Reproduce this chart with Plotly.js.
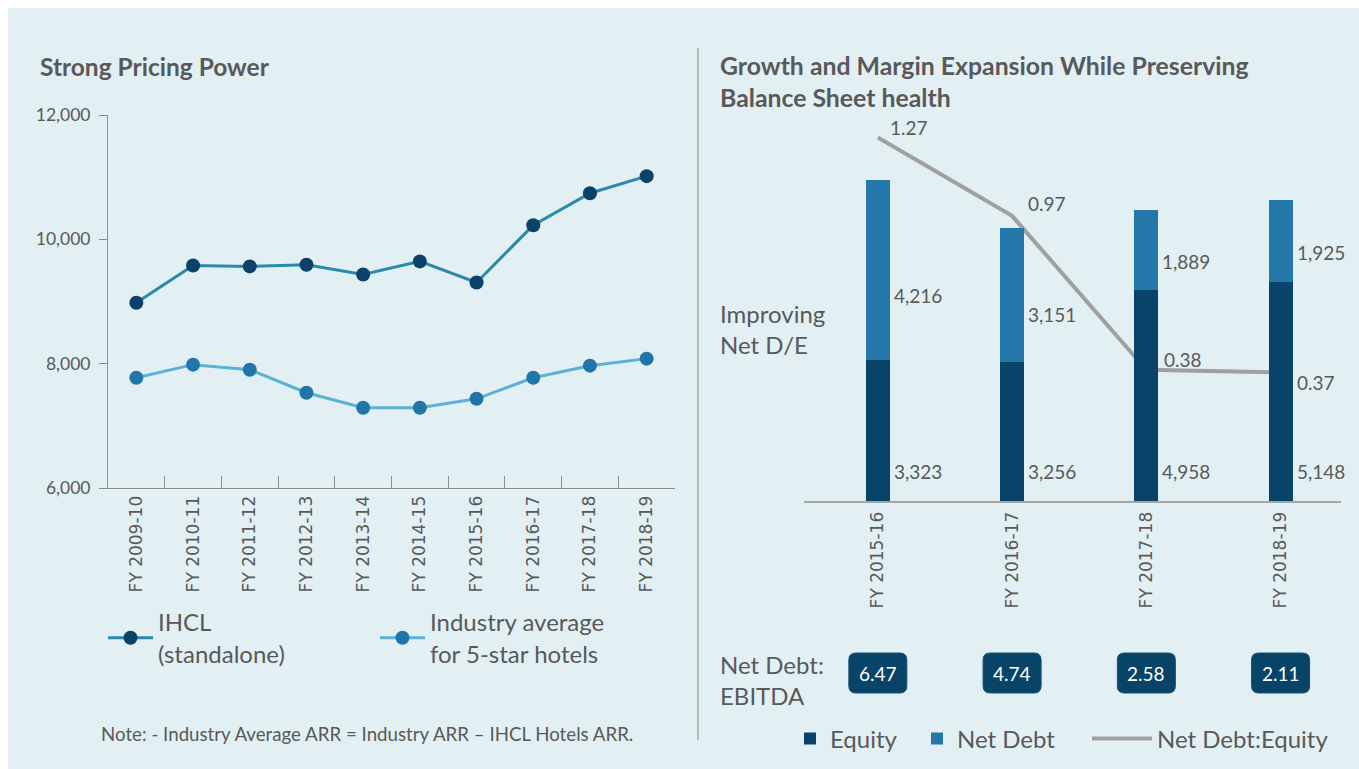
<!DOCTYPE html>
<html>
<head>
<meta charset="utf-8">
<script src="https://cdn.plot.ly/plotly-3.0.1.min.js"></script>
<style>
  html, body { margin: 0; padding: 0; background: #ffffff; }
  #chart { width: 1359px; height: 769px; }
</style>
</head>
<body>
<div id="chart"></div>
<script>
// ---------- data ----------
const years = ['FY 2009-10', 'FY 2010-11', 'FY 2011-12', 'FY 2012-13', 'FY 2013-14',
               'FY 2014-15', 'FY 2015-16', 'FY 2016-17', 'FY 2017-18', 'FY 2018-19'];
const ihclArr = [8980, 9580, 9565, 9590, 9435, 9645, 9306, 10226, 10742, 11016];
const industryArr = [7774, 7984, 7903, 7532, 7290, 7290, 7435, 7774, 7968, 8081];

const balYears = ['FY 2015-16', 'FY 2016-17', 'FY 2017-18', 'FY 2018-19'];
const equity = [3323, 3256, 4958, 5148];
const netDebt = [4216, 3151, 1889, 1925];
const netDebtEquity = [1.27, 0.97, 0.38, 0.37];
const netDebtEbitda = [6.47, 4.74, 2.58, 2.11];

// ---------- helpers (pixel -> paper) ----------
const W = 1359, H = 769;
const px = x => x / W;
const py = y => 1 - y / H;

const TXT = '#595959';
const CAL = 'Lato, "Open Sans", sans-serif';
const TICKF = '"DejaVu Sans", sans-serif';

const fmt = v => v.toLocaleString('en-US');

// ---------- traces ----------
const traces = [
  {
    x: years, y: ihclArr, name: 'IHCL<br>(standalone)', type: 'scatter', mode: 'lines+markers',
    xaxis: 'x', yaxis: 'y', legend: 'legend',
    line: { color: '#2B89AB', width: 3 },
    marker: { color: '#0A4269', size: 14 }
  },
  {
    x: years, y: industryArr, name: 'Industry average<br>for 5-star hotels', type: 'scatter', mode: 'lines+markers',
    xaxis: 'x', yaxis: 'y', legend: 'legend2',
    line: { color: '#5DB1D4', width: 3 },
    marker: { color: '#2275A8', size: 14 }
  },
  {
    x: balYears, y: equity, name: 'Equity', type: 'bar', xaxis: 'x2', yaxis: 'y3', legend: 'legend3',
    marker: { color: '#08436A' }, width: 0.18
  },
  {
    x: balYears, y: netDebt, name: 'Net Debt', type: 'bar', xaxis: 'x2', yaxis: 'y3', legend: 'legend4',
    marker: { color: '#2477A9' }, width: 0.18
  },
  {
    x: balYears, y: netDebtEquity, name: 'Net Debt:Equity', type: 'scatter', mode: 'lines',
    xaxis: 'x2', yaxis: 'y2', legend: 'legend5',
    line: { color: '#A0A0A0', width: 4 }
  }
];

// ---------- annotations ----------
const annotations = [];
annotations.push({
  text: '<b>Strong Pricing Power</b>', xref: 'paper', yref: 'paper', x: px(38), y: py(67),
  xanchor: 'left', yanchor: 'middle', showarrow: false, align: 'left',
  font: { family: CAL, size: 24.5, color: TXT }
});
annotations.push({
  text: '<b>Growth and Margin Expansion While Preserving<br>Balance Sheet health</b>',
  xref: 'paper', yref: 'paper', x: px(718), y: py(82),
  xanchor: 'left', yanchor: 'middle', showarrow: false, align: 'left',
  font: { family: CAL, size: 24.8, color: TXT }
});
annotations.push({
  text: 'Note: - Industry Average ARR = Industry ARR \u2013 IHCL Hotels ARR.',
  xref: 'paper', yref: 'paper', x: px(99), y: py(734),
  xanchor: 'left', yanchor: 'middle', showarrow: false, align: 'left',
  font: { family: CAL, size: 18.7, color: TXT }
});
annotations.push({
  text: 'Improving<br>Net D/E', xref: 'paper', yref: 'paper', x: px(718), y: py(329),
  xanchor: 'left', yanchor: 'middle', showarrow: false, align: 'left',
  font: { family: CAL, size: 24, color: TXT }
});
annotations.push({
  text: 'Net Debt:<br>EBITDA', xref: 'paper', yref: 'paper', x: px(718), y: py(680),
  xanchor: 'left', yanchor: 'middle', showarrow: false, align: 'left',
  font: { family: CAL, size: 24, color: TXT }
});

// bar value labels
balYears.forEach((c, i) => {
  annotations.push({
    text: fmt(equity[i]), xref: 'x2', yref: 'paper', x: c, y: py(471),
    xanchor: 'left', yanchor: 'middle', xshift: 14, showarrow: false,
    font: { family: CAL, size: 19, color: TXT }
  });
  annotations.push({
    text: fmt(netDebt[i]), xref: 'x2', yref: 'y3', x: c, y: equity[i] + netDebt[i] * 0.36,
    xanchor: 'left', yanchor: 'middle', xshift: 14, showarrow: false,
    font: { family: CAL, size: 19, color: TXT }
  });
});

// line value labels
const lineLabelShift = [[10, 10], [14, 12], [16, 10], [14, -10]];
balYears.forEach((c, i) => {
  annotations.push({
    text: netDebtEquity[i].toFixed(2), xref: 'x2', yref: 'y2', x: c, y: netDebtEquity[i],
    xanchor: 'left', yanchor: 'middle', xshift: lineLabelShift[i][0], yshift: lineLabelShift[i][1],
    showarrow: false, font: { family: CAL, size: 19, color: TXT }
  });
});

// background, divider, EBITDA boxes
const shapes = [];
shapes.push({
  type: 'rect', xref: 'paper', yref: 'paper', x0: px(8), x1: 1, y0: 0, y1: py(8),
  fillcolor: '#E2F0F4', line: { width: 0 }, layer: 'below'
});
shapes.push({
  type: 'line', xref: 'paper', yref: 'paper', x0: px(698), x1: px(698), y0: py(48), y1: py(740),
  line: { color: '#A8A8A8', width: 1.5 }
});
const boxPath = 'M -22,-20 L 22,-20 Q 29,-20 29,-13 L 29,13 Q 29,20 22,20 L -22,20 Q -29,20 -29,13 L -29,-13 Q -29,-20 -22,-20 Z';
balYears.forEach((c, i) => {
  shapes.push({
    type: 'path', xref: 'x2', yref: 'paper', xsizemode: 'pixel', ysizemode: 'pixel',
    xanchor: c, yanchor: py(673), path: boxPath,
    fillcolor: '#084468', line: { color: '#174F72', width: 1 }
  });
  annotations.push({
    text: netDebtEbitda[i].toFixed(2), xref: 'x2', yref: 'paper', x: c, y: py(673),
    xanchor: 'center', yanchor: 'middle', showarrow: false,
    font: { family: CAL, size: 19, color: '#ffffff' }
  });
});

// ---------- legends ----------
const legBase = {
  orientation: 'h', xref: 'paper', yref: 'paper', xanchor: 'left', yanchor: 'middle',
  bgcolor: 'rgba(0,0,0,0)', borderwidth: 0, font: { family: CAL, size: 24, color: TXT }
};

const layout = {
  width: W, height: H,
  margin: { l: 0, r: 0, t: 0, b: 0 },
  paper_bgcolor: '#ffffff', plot_bgcolor: 'rgba(0,0,0,0)',
  showlegend: true,
  barmode: 'stack',
  hovermode: false,
  xaxis: {
    domain: [px(108), px(675)], anchor: 'y', type: 'category', range: [-0.5, 9.5],
    tickangle: -90, tickson: 'boundaries', ticks: 'inside', ticklen: 12, tickcolor: '#8C8C8C',
    showline: true, linecolor: '#8C8C8C', linewidth: 1, showgrid: false, zeroline: false,
    tickfont: { family: TICKF, size: 17, color: TXT }, automargin: false
  },
  yaxis: {
    domain: [py(488), py(115)], anchor: 'x', range: [6000, 12000], tick0: 6000, dtick: 2000,
    tickformat: ',', ticks: 'outside', ticklen: 8, tickcolor: '#8C8C8C', ticklabelstandoff: 5,
    showline: true, linecolor: '#8C8C8C', linewidth: 1, showgrid: false, zeroline: false,
    tickfont: { family: CAL, size: 17.5, color: TXT }, automargin: false
  },
  xaxis2: {
    domain: [px(804), px(1341)], anchor: 'y2', type: 'category', range: [-0.55, 3.45],
    tickangle: -90, ticks: '', showline: true, linecolor: '#A6A6A6', linewidth: 2,
    showgrid: false, zeroline: false, ticklabelstandoff: 2,
    tickfont: { family: TICKF, size: 17, color: TXT }, automargin: false
  },
  yaxis2: {
    domain: [py(501), py(130)], anchor: 'x2', range: [-0.1226, 1.299], visible: false,
    showgrid: false, zeroline: false
  },
  yaxis3: {
    overlaying: 'y2', anchor: 'x2', range: [0, 8718], visible: false,
    showgrid: false, zeroline: false
  },
  legend: Object.assign({}, legBase, { x: px(103), y: py(638), itemwidth: 45 }),
  legend2: Object.assign({}, legBase, { x: px(375), y: py(638), itemwidth: 45 }),
  legend3: Object.assign({}, legBase, { x: px(790), y: py(739) }),
  legend4: Object.assign({}, legBase, { x: px(917), y: py(739) }),
  legend5: Object.assign({}, legBase, { x: px(1087), y: py(739), itemwidth: 60 }),
  annotations: annotations,
  shapes: shapes
};

Plotly.newPlot('chart', traces, layout, { displayModeBar: false, staticPlot: true });
</script>
</body>
</html>
